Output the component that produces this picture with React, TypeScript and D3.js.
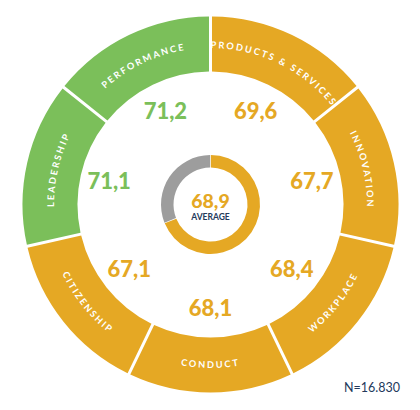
import React from "react";
import * as d3 from "d3";

// reputation dimensions, clockwise from 12 o'clock
const categories = [
  "PRODUCTS & SERVICES",
  "INNOVATION",
  "WORKPLACE",
  "CONDUCT",
  "CITIZENSHIP",
  "LEADERSHIP",
  "PERFORMANCE",
];
const scores = [69.6, 67.7, 68.4, 68.1, 67.1, 71.1, 71.2];
const average = 68.9;
const averageLabel = "AVERAGE";
const sampleSize = 16830;

const width = 420;
const height = 410;
const cx = 210.5;
const cy = 204.5;
const outerR = 188;
const innerR = 133;

const green = "#7bbf5a";
const orange = "#e5a824";
const grey = "#9d9d9d";
const navy = "#23395b";
const font = "Lato, 'Noto Sans', sans-serif";

const locale = d3.formatLocale({ decimal: ",", thousands: ".", grouping: [3], currency: ["", ""] });
const fmtScore = locale.format(".1f");
const fmtN = locale.format(",d");

const colorFor = (v: number) => (v >= 70 ? green : orange);

export default function App() {
  const pie = d3.pie<number>().value(1).sort(null);
  const slices = pie(scores);

  const ring = d3
    .arc<d3.PieArcDatum<number>>()
    .innerRadius(innerR)
    .outerRadius(outerR)
    .padAngle(3 / Math.sqrt(innerR * innerR + outerR * outerR));

  // small donut in the middle
  const avgScale = d3.scaleLinear([0, 100], [0, 2 * Math.PI]);
  const avgArc = d3.arc().innerRadius(37).outerRadius(49.5).padAngle(0.012);

  const pt = (a: number, r: number) => [r * Math.sin(a), -r * Math.cos(a)];

  // label path: clockwise on the upper half, counter-clockwise on the lower one
  const labelPath = (s: d3.PieArcDatum<number>) => {
    const mid = (s.startAngle + s.endAngle) / 2;
    const flip = mid > Math.PI / 2 && mid < (3 * Math.PI) / 2;
    const r = flip ? 163.5 : 156.5;
    const [x0, y0] = pt(s.startAngle, r);
    const [x1, y1] = pt(s.endAngle, r);
    return flip
      ? `M${x1},${y1}A${r},${r} 0 0 0 ${x0},${y0}`
      : `M${x0},${y0}A${r},${r} 0 0 1 ${x1},${y1}`;
  };

  return (
    <svg width={width} height={height} style={{ position: "absolute", left: 0, top: 0 }} fontFamily={font}>
      <rect width={width} height={height} fill="#fff" />
      <g transform={`translate(${cx},${cy})`}>
        {slices.map((s, i) => (
          <g key={i}>
            <path d={ring(s) || ""} fill={colorFor(s.data)} />
            <path id={`lbl${i}`} d={labelPath(s)} fill="none" />
            <text fill="#fff" fontSize={9.2} fontWeight={700} letterSpacing={2}>
              <textPath href={`#lbl${i}`} startOffset="50%" textAnchor="middle">
                {categories[i]}
              </textPath>
            </text>
          </g>
        ))}
        {slices.map((s, i) => {
          const mid = (s.startAngle + s.endAngle) / 2;
          const [x, y] = pt(mid, 104);
          return (
            <text
              key={i}
              x={x}
              y={y}
              dy="0.36em"
              textAnchor="middle"
              fill={colorFor(s.data)}
              fontSize={22}
              fontWeight={900}
            >
              {fmtScore(s.data)}
            </text>
          );
        })}
        <path
          d={avgArc({ startAngle: 0, endAngle: avgScale(average), innerRadius: 37, outerRadius: 49.5 } as any) || ""}
          fill={orange}
        />
        <path
          d={avgArc({ startAngle: avgScale(average), endAngle: 2 * Math.PI, innerRadius: 37, outerRadius: 49.5 } as any) || ""}
          fill={grey}
        />
        <text y={3} textAnchor="middle" fill={orange} fontSize={19.5} fontWeight={900}>
          {fmtScore(average)}
        </text>
        <text y={15.5} textAnchor="middle" fill={navy} fontSize={8.5} fontWeight={700}>
          {averageLabel}
        </text>
      </g>
      <text x={400} y={392} textAnchor="end" fill={navy} fontSize={12.5}>
        N={fmtN(sampleSize)}
      </text>
    </svg>
  );
}
